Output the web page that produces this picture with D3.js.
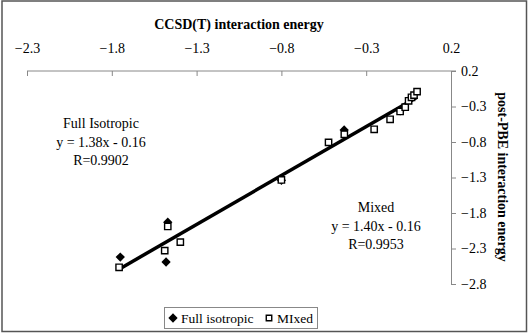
<!DOCTYPE html>
<html>
<head>
<meta charset="utf-8">
<script src="https://cdn.jsdelivr.net/npm/d3@7"></script>
<style>
  body { margin: 0; background: #fff; }
  text { font-family: "Liberation Serif", "Times New Roman", serif; fill: #000; }
</style>
</head>
<body>
<svg id="chart" width="529" height="334"></svg>
<script>
// data
var isoX = [-1.75, -1.47, -1.48, -0.43, -0.80, -0.10, -0.03];
var isoY = [-2.42, -1.93, -2.49, -0.63, -1.34, -0.36, -0.17];
var mixX = [-1.757, -1.47, -1.488, -1.396, -0.80, -0.522, -0.429, -0.253, -0.159, -0.10, -0.07, -0.05, -0.033, -0.018, 0.0];
var mixY = [-2.565, -1.99, -2.33, -2.21, -1.335, -0.805, -0.692, -0.621, -0.48, -0.37, -0.31, -0.22, -0.17, -0.14, -0.09];
var xTicks = [-2.3, -1.8, -1.3, -0.8, -0.3, 0.2];
var yTicks = [0.2, -0.3, -0.8, -1.3, -1.8, -2.3, -2.8];
var seriesNames = ["Full isotropic", "MIxed"];

var svg = d3.select("#chart");

// outer frame
svg.append("rect").attr("x", 2).attr("y", 1).attr("width", 524.5).attr("height", 330.5)
  .attr("fill", "none").attr("stroke", "#555").attr("stroke-width", 1.5);

var x = d3.scaleLinear().domain([-2.3, 0.2]).range([27, 451]);
var y = d3.scaleLinear().domain([-2.8, 0.2]).range([284, 71]);

// top axis
var gx = svg.append("g").attr("transform", "translate(0," + y(0.2) + ")")
  .call(d3.axisBottom(x).tickValues(xTicks).tickSize(5).tickSizeOuter(0).tickFormat(d3.format(".1f")));
gx.select(".domain").attr("stroke", "#888").attr("d", "M" + x(-2.3) + ",0H" + (x(0.2) + 5));
gx.selectAll(".tick line").attr("stroke", "#888");
gx.selectAll(".tick text").attr("y", -23).attr("dy", "0.35em")
  .style("font-size", "14px").style("font-family", "Liberation Serif");

// right axis
var gy = svg.append("g").attr("transform", "translate(" + x(0.2) + ",0)")
  .call(d3.axisRight(y).tickValues(yTicks).tickSize(5).tickSizeOuter(0).tickFormat(d3.format(".1f")));
gy.select(".domain").attr("stroke", "#888");
gy.selectAll(".tick line").attr("stroke", "#888");
gy.selectAll(".tick text").attr("x", 10)
  .style("font-size", "14px").style("font-family", "Liberation Serif");

// titles
svg.append("text").attr("x", 239).attr("y", 29).attr("text-anchor", "middle")
  .style("font-size", "14px").style("font-weight", "bold").text("CCSD(T) interaction energy");
svg.append("text").attr("transform", "translate(503,177) rotate(90)").attr("text-anchor", "middle")
  .attr("dy", "0.35em")
  .style("font-size", "14px").style("font-weight", "bold").text("post-PBE interaction energy");

// trend line from least squares of the mixed series
var mx = d3.mean(mixX), my = d3.mean(mixY);
var slope = d3.sum(mixX, function(d, i) { return (d - mx) * (mixY[i] - my); }) /
            d3.sum(mixX, function(d) { return (d - mx) * (d - mx); });
var icpt = my - slope * mx;
var ext = d3.extent(mixX);
svg.append("line")
  .attr("x1", x(ext[0])).attr("y1", y(slope * ext[0] + icpt))
  .attr("x2", x(ext[1])).attr("y2", y(slope * ext[1] + icpt))
  .attr("stroke", "#000").attr("stroke-width", 3.5);

var diamond = d3.symbol().type(d3.symbolDiamond2).size(55);
var square = d3.symbol().type(d3.symbolSquare).size(40);

svg.append("g").selectAll("path").data(isoX).enter().append("path")
  .attr("transform", function(d, i) { return "translate(" + x(d) + "," + y(isoY[i]) + ")"; })
  .attr("d", diamond).attr("fill", "#000");

svg.append("g").selectAll("path").data(mixX).enter().append("path")
  .attr("transform", function(d, i) { return "translate(" + x(d) + "," + y(mixY[i]) + ")"; })
  .attr("d", square).attr("fill", "#fff").attr("stroke", "#000").attr("stroke-width", 1.4);

// annotations
function note(cx, lines, y0) {
  svg.append("g").selectAll("text").data(lines).enter().append("text")
    .attr("x", cx).attr("y", function(d, i) { return y0 + i * 18.5; })
    .attr("text-anchor", "middle").style("font-size", "14px").text(String);
}
note(101, ["Full Isotropic", "y = 1.38x - 0.16", "R=0.9902"], 128);
note(376, ["Mixed", "y = 1.40x - 0.16", "R=0.9953"], 212);

// legend
var lg = svg.append("g");
lg.append("rect").attr("x", 164.5).attr("y", 307.5).attr("width", 153).attr("height", 21)
  .attr("fill", "#fff").attr("stroke", "#888");
lg.append("path").attr("transform", "translate(173,318)").attr("d", diamond).attr("fill", "#000");
lg.append("text").attr("x", 181).attr("y", 322.5).style("font-size", "13.5px").text(seriesNames[0]);
lg.append("path").attr("transform", "translate(269,318)").attr("d", d3.symbol().type(d3.symbolSquare).size(30))
  .attr("fill", "#fff").attr("stroke", "#000").attr("stroke-width", 1.4);
lg.append("text").attr("x", 277).attr("y", 322.5).style("font-size", "13.5px").text(seriesNames[1]);
</script>
</body>
</html>
